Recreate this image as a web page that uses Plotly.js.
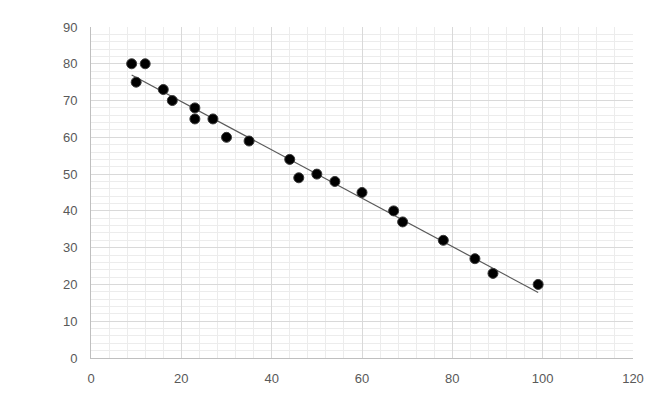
<!DOCTYPE html>
<html><head><meta charset="utf-8">
<script src="https://cdn.plot.ly/plotly-3.0.1.min.js"></script>
<style>html,body{margin:0;padding:0;background:#fff}#chart{width:649px;height:403px}</style>
</head><body><div id="chart"></div>
<script>
const xValues = [9, 10, 12, 16, 18, 23, 23, 27, 30, 35, 44, 46, 50, 54, 60, 67, 69, 78, 85, 89, 99];
const yValues = [80, 75, 80, 73, 70, 68, 65, 65, 60, 59, 54, 49, 50, 48, 45, 40, 37, 32, 27, 23, 20];
const xTicks = [0, 20, 40, 60, 80, 100, 120];
const yTicks = [0, 10, 20, 30, 40, 50, 60, 70, 80, 90];

// linear least-squares trendline
const n = xValues.length;
const mx = xValues.reduce((a,b)=>a+b,0)/n;
const my = yValues.reduce((a,b)=>a+b,0)/n;
let sxy=0, sxx=0;
for (let i=0;i<n;i++){ sxy+=(xValues[i]-mx)*(yValues[i]-my); sxx+=(xValues[i]-mx)**2; }
const slope = sxy/sxx, icpt = my - slope*mx;
const xMin = Math.min(...xValues), xMax = Math.max(...xValues);
const trendX = [xMin, xMax];
const trendY = trendX.map(x=>icpt+slope*x);

const traces = [
  {x: trendX, y: trendY, mode:'lines', type:'scatter', line:{color:'#595959', width:1.2}, hoverinfo:'skip'},
  {x: xValues, y: yValues, mode:'markers', type:'scatter',
   marker:{color:'#000000', size:10, line:{color:'#3a3a3a', width:1}}}
];
const axisFont = {family:'Liberation Sans, Arial, sans-serif', size:13, color:'#595959'};
const layout = {
  width:649, height:403, showlegend:false,
  margin:{l:91, r:16, t:27, b:45},
  paper_bgcolor:'#fff', plot_bgcolor:'#fff',
  xaxis:{range:[0,120], tickvals:xTicks, ticktext:xTicks.map(String), showgrid:true, gridcolor:'#d9d9d9', gridwidth:1,
    minor:{dtick:4, showgrid:true, gridcolor:'#ececec', gridwidth:1},
    zeroline:false, showline:true, linecolor:'#bfbfbf', linewidth:1, ticks:'', tickfont:axisFont, ticklabelstandoff:8},
  yaxis:{range:[0,90], tickvals:yTicks, ticktext:yTicks.map(String), showgrid:true, gridcolor:'#d9d9d9', gridwidth:1,
    minor:{dtick:2, showgrid:true, gridcolor:'#ececec', gridwidth:1},
    zeroline:false, showline:true, linecolor:'#bfbfbf', linewidth:1, ticks:'', tickfont:axisFont, ticklabelstandoff:10}
};
Plotly.newPlot('chart', traces, layout, {displayModeBar:false, staticPlot:true});
</script></body></html>
